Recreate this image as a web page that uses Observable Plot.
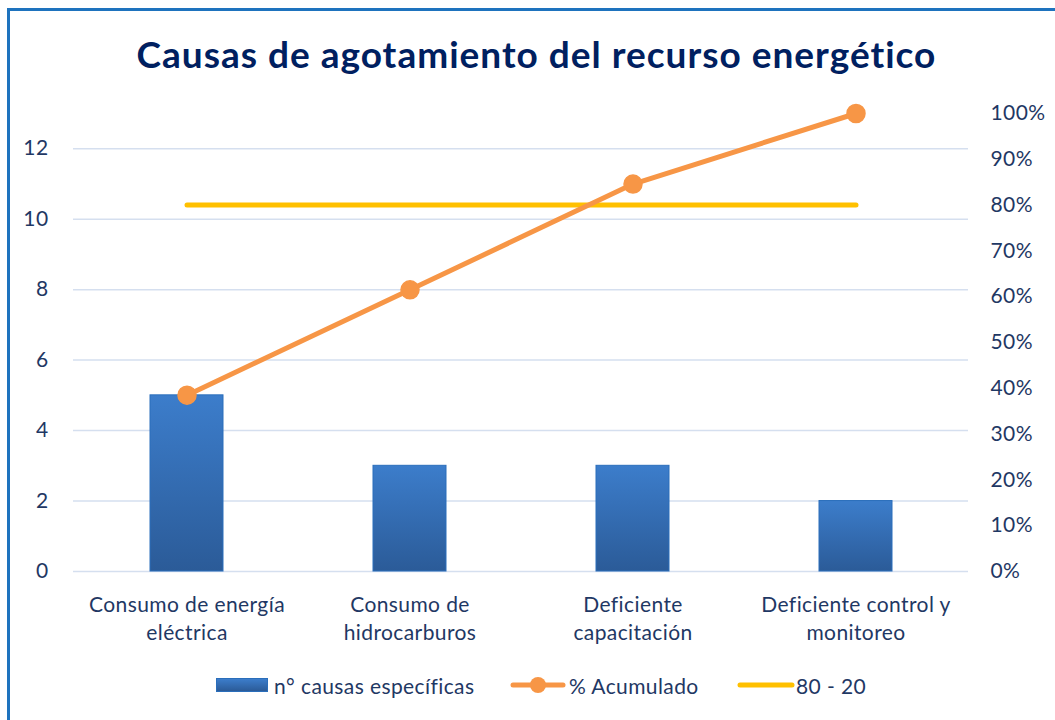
<!DOCTYPE html>
<html>
<head>
<meta charset="utf-8">
<script src="https://cdn.jsdelivr.net/npm/d3@7"></script>
<script src="https://cdn.jsdelivr.net/npm/@observablehq/plot@0.6"></script>
<style>
  html, body { margin: 0; padding: 0; background: #fff; width: 1055px; height: 720px; overflow: hidden; }
  #frame { position: absolute; left: 7px; top: 8px; width: 1100px; height: 800px; border-left: 3px solid #1E73BE; border-top: 3px solid #1E73BE; }
  #title { position: absolute; left: 0; width: 1073px; top: 31px; text-align: center; font-family: Lato, "Open Sans", sans-serif; font-weight: 700; font-size: 37px; letter-spacing: 1px; color: #002060; }
  #chart { position: absolute; left: 0; top: 90px; }
  #legend { position: absolute; top: 672px; left: 216px; font-family: Lato, "Open Sans", sans-serif; font-size: 21px; letter-spacing: 0.4px; color: #1F3864; }
  .item { position: absolute; white-space: nowrap; display: flex; align-items: center; height: 26px; }
  .sw { display: inline-block; }
</style>
</head>
<body>
<div id="frame"></div>
<div id="title">Causas de agotamiento del recurso energético</div>
<div id="chart"></div>
<div id="legend"></div>
<script>
const categories = ["Consumo de energía\neléctrica", "Consumo de\nhidrocarburos", "Deficiente\ncapacitación", "Deficiente control y\nmonitoreo"];
const causas = [5, 3, 3, 2];
const pctAcumulado = [38.5, 61.5, 84.6, 100];
const linea8020 = [80, 80, 80, 80];
const leftTicks = [0, 2, 4, 6, 8, 10, 12];
const rightTicks = [0, 10, 20, 30, 40, 50, 60, 70, 80, 90, 100];
const seriesNames = ["n° causas específicas", "% Acumulado", "80 - 20"];

const total = d3.sum(causas); // 100% on the right axis equals the total count
const data = categories.map((c, i) => ({cat: c, n: causas[i], pct: pctAcumulado[i], ref: linea8020[i]}));
const toY = p => p / 100 * total;

const navy = "#1F3864";
const orange = "#F79646";
const yellow = "#FFC000";
const grid = "#D5DFEF";

const plot = Plot.plot({
  width: 1055,
  height: 561,
  marginLeft: 73,
  marginRight: 87,
  marginTop: 23,
  marginBottom: 80,
  style: {fontFamily: "Lato, 'Open Sans', sans-serif", fontSize: "21px", letterSpacing: "0.4px", color: navy, background: "transparent"},
  x: {domain: categories, paddingInner: 0.674, paddingOuter: 0.337, label: null},
  y: {domain: [0, total], label: null},
  marks: [
    Plot.gridY(leftTicks, {stroke: grid, strokeOpacity: 1, strokeWidth: 1.5}),
    Plot.barY(data, {x: "cat", y: "n", fill: "url(#barGrad)", stroke: "#2A6EBB", strokeWidth: 1}),
    Plot.line(data, {x: "cat", y: d => toY(d.ref), stroke: yellow, strokeWidth: 5, strokeLinecap: "round"}),
    Plot.line(data, {x: "cat", y: d => toY(d.pct), stroke: orange, strokeWidth: 5, strokeLinecap: "round"}),
    Plot.dot(data, {x: "cat", y: d => toY(d.pct), r: 9, fill: orange, stroke: orange}),
    Plot.axisY(leftTicks, {anchor: "left", tickSize: 0, tickPadding: 25, fill: navy, label: null}),
    Plot.axisY(rightTicks.map(toY), {anchor: "right", tickSize: 0, tickPadding: 22, fill: navy, label: null,
      tickFormat: d => Math.round(d / total * 100) + "%"}),
    Plot.axisX({anchor: "bottom", tickSize: 0, tickPadding: 20, fill: navy, label: null, lineHeight: 1.35})
  ]
});

const svg = d3.select(plot);
const defs = svg.insert("defs", ":first-child");
const g = defs.append("linearGradient").attr("id", "barGrad").attr("x1", 0).attr("y1", 0).attr("x2", 0).attr("y2", 1);
g.append("stop").attr("offset", "0%").attr("stop-color", "#3C7DCB");
g.append("stop").attr("offset", "100%").attr("stop-color", "#2B5B98");
document.getElementById("chart").appendChild(plot);

// legend
const legend = document.getElementById("legend");
const items = [
  {left: 0, html: `<span class="sw" style="width:52px;height:14px;background:linear-gradient(#3C7DCB,#2B5B98);border:1px solid #2A6EBB;box-sizing:border-box;margin-right:6px"></span>${seriesNames[0]}`},
  {left: 294, html: `<svg width="56" height="20" style="margin-right:3px"><line x1="3" y1="10" x2="53" y2="10" stroke="${orange}" stroke-width="5" stroke-linecap="round"/><circle cx="28" cy="10" r="8" fill="${orange}"/></svg>${seriesNames[1]}`},
  {left: 521, html: `<svg width="58" height="20" style="margin-right:1px"><line x1="3" y1="10" x2="55" y2="10" stroke="${yellow}" stroke-width="5" stroke-linecap="round"/></svg>${seriesNames[2]}`}
];
for (const it of items) {
  const d = document.createElement("div");
  d.className = "item";
  d.style.left = it.left + "px";
  d.innerHTML = it.html;
  legend.appendChild(d);
}
</script>
</body>
</html>
